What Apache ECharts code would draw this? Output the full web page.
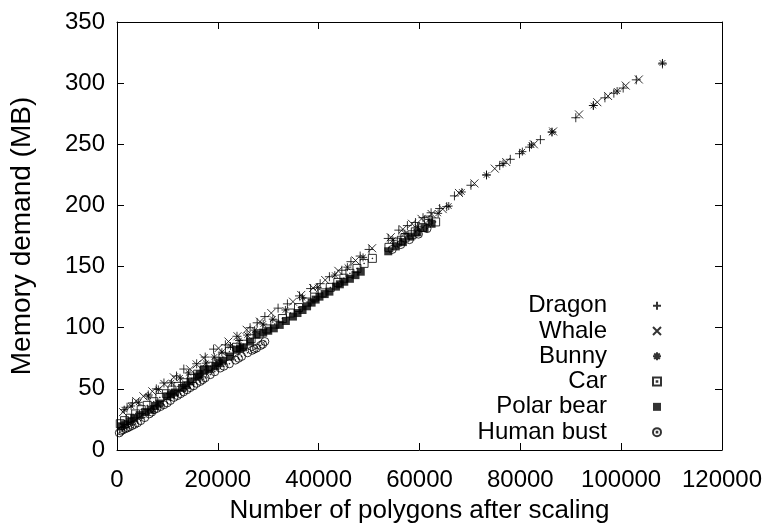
<!DOCTYPE html>
<html>
<head>
<meta charset="utf-8">
<title>Memory demand vs. polygon count</title>
<script src="https://cdn.jsdelivr.net/npm/echarts@6/dist/echarts.min.js"></script>
<style>
  html, body { margin: 0; padding: 0; background: #fff; }
  #chart { width: 768px; height: 529px; }
</style>
</head>
<body>
<div id="chart"></div>
<script>
// Measured memory demand (MB) against polygon count after scaling, per model.
const seriesNames = ['Dragon', 'Whale', 'Bunny', 'Car', 'Polar bear', 'Human bust'];

const dragon = [
  [2000, 35], [3070, 38.5], [6200, 45], [7800, 50], [9310, 54.8], [11800, 60.5], [13250, 66.2],
  [15800, 70.5], [17500, 76], [19150, 82.5], [21500, 86], [23800, 93], [26400, 100],
  [27800, 104], [29330, 109.1], [31950, 116], [33800, 119.5], [36200, 126], [38400, 132],
  [40300, 136], [42130, 141.7], [44600, 147], [46400, 154], [48230, 158.6], [50000, 164],
  [53800, 173], [55900, 179.8], [57600, 183.5], [59200, 186], [60700, 190], [62300, 194],
  [64000, 197.5], [65400, 199], [66930, 207.8], [70200, 216.5], [73290, 224.9], [75910, 232.6],
  [78010, 237.7], [79840, 242.3], [81820, 247.7], [83980, 253.8], [86280, 260], [91000, 271.7],
  [94480, 281.7], [96780, 288], [98550, 291.8], [100400, 296], [103000, 302.7], [108190, 315.7]
];

const whale = [
  [1200, 31], [3800, 40], [5240, 43.9], [7010, 48], [9400, 54], [11280, 59.4], [14500, 66],
  [15800, 70], [17190, 75.2], [20140, 83.3], [22110, 88.7], [23900, 93], [25720, 98.3],
  [28350, 105], [30600, 112], [34900, 121.3], [36540, 126.8], [38900, 132.5], [41300, 139],
  [43900, 146.5], [47300, 155], [50600, 165], [54300, 174], [56700, 180.5], [58500, 185],
  [60400, 189], [62400, 193], [64600, 197], [67830, 210.2], [70900, 218], [74930, 230.1],
  [77200, 235.5], [82680, 250], [86500, 260.5], [91650, 274.4], [95270, 284.4], [97400, 289.5],
  [100900, 298], [103500, 303]
];

const bunny = [
  [1440, 33], [2800, 36], [4300, 39], [6200, 44], [8200, 49.5], [10800, 55], [12500, 59],
  [14200, 63], [17600, 71], [19300, 76], [20800, 80], [22500, 85], [24200, 89.5], [25800, 94],
  [27300, 98], [29000, 103], [30900, 107], [33400, 114.5], [36800, 124.5], [39800, 133],
  [43200, 143], [45700, 149.5], [48800, 157.5], [54700, 171.5], [57100, 177], [59600, 182.5],
  [61900, 188.5], [63700, 193.5], [65800, 199.5], [68400, 211], [73290, 224.9], [76570, 234.2],
  [80400, 244], [82200, 249.5], [86280, 260], [94480, 281.7], [99200, 293.5], [108190, 316.5]
];

const car = [
  [650, 21.5], [1500, 24], [2600, 26], [3700, 29.5], [4800, 33], [6000, 36.5], [7300, 39.5],
  [8500, 43], [9800, 46], [10900, 49], [12100, 52], [13400, 55], [14800, 58.5], [16000, 62],
  [17300, 65.5], [18500, 68.5], [19800, 72], [21000, 76], [22300, 80.5], [23700, 84],
  [25100, 86.5], [26600, 91], [28200, 95], [29700, 99], [31300, 103], [32800, 107.5],
  [34400, 112], [36000, 116.5], [37700, 121], [39200, 125], [40700, 128.5], [42300, 133],
  [43800, 137], [45000, 140.5], [46200, 144.5], [47600, 148.5], [49010, 152.6], [50650, 156.7],
  [53940, 165.7], [55600, 170], [56400, 171.5], [57100, 173.5], [58500, 176], [59170, 178.4],
  [60600, 182], [61800, 188], [63200, 186.5]
];

const polarBear = [
  [790, 19.4], [1600, 21], [2500, 23.5], [3400, 26], [4500, 28.5], [5600, 31], [6690, 33],
  [7600, 36], [8400, 38], [9960, 43.9], [10700, 45.5], [11500, 47], [12910, 50.7], [13700, 53],
  [14570, 56.1], [15900, 60], [16400, 62], [17190, 65.6], [18300, 66], [19500, 68.5],
  [20200, 71], [21000, 73], [22440, 76.5], [23740, 82], [24400, 83], [25000, 84], [26380, 88.7],
  [27680, 94.2], [29000, 96], [30000, 97.5], [31100, 99.5], [32280, 102.3], [33500, 105.5],
  [34900, 109.1], [35800, 112], [36800, 114.5], [37700, 117.5], [38600, 120.5], [39400, 123],
  [40160, 125.4], [41200, 127.5], [42130, 129.5], [43430, 133.6], [44200, 135.5], [45080, 137.6],
  [46200, 140], [47300, 143], [48350, 145.8], [53800, 162.5], [55300, 166.5], [56700, 170],
  [58200, 174.5], [59600, 178], [61000, 181.5], [62400, 185]
];

const humanBust = [
  [450, 14], [800, 15.5], [1200, 16.5], [1700, 17.5], [2090, 18.1], [2500, 19], [3000, 20],
  [3500, 21], [4060, 22.2], [4700, 24], [5500, 26.5], [6400, 29.5], [6900, 31], [7340, 33],
  [7900, 34], [8600, 35.5], [9300, 37], [9960, 38.5], [10600, 40.5], [11300, 43], [12000, 44.5],
  [12600, 46], [13200, 47.5], [13900, 49.3], [14500, 51], [15200, 52.5], [15800, 54.5],
  [16530, 56.1], [17000, 57.5], [17500, 59], [18500, 61.6], [19400, 64], [20470, 67],
  [21200, 68.5], [22300, 70.5], [23500, 73.5], [24100, 75], [24720, 76.5], [25900, 79.5],
  [26800, 81.5], [27200, 82.5], [27680, 83.3], [28500, 85.5], [28900, 86.5], [29330, 88.7],
  [54600, 164], [56300, 168], [58000, 172], [59800, 176.5], [61500, 181]
];

// Axis ranges and tick steps
const xRange = { min: 0, max: 120000, step: 20000 };
const yRange = { min: 0, max: 350, step: 50 };

// Point styles in the spirit of classic plotting terminals
const plusPath    = 'path://M0,5H10M5,0V10';
const crossPath   = 'path://M0,0L10,10M10,0L0,10';
const starPath    = 'path://M0,5H10M5,0V10M1.5,1.5L8.5,8.5M8.5,1.5L1.5,8.5';
const boxDotPath  = 'path://M0,0H10V10H0ZM4.6,4.6H5.4V5.4H4.6Z';
const boxPath     = 'path://M0,0H10V10H0Z';
const circDotPath = 'path://M10,5A5,5,0,1,1,0,5A5,5,0,1,1,10,5ZM4.6,4.6H5.4V5.4H4.6Z';

const FONT = 'Liberation Sans, Arial, Helvetica, sans-serif';
const FS = 24;

const stroked = { color: 'rgba(0,0,0,0)', borderColor: '#000', borderWidth: 1 };

function scatter(name, data, symbol, size, itemStyle) {
  return {
    name: name,
    type: 'scatter',
    data: data,
    symbol: symbol,
    symbolSize: size,
    itemStyle: itemStyle,
    emphasis: { disabled: true },
    z: 3
  };
}

const frameLine = { show: true, onZero: false, lineStyle: { color: '#000', width: 1 } };
const innerTick = { show: true, inside: true, length: 7, lineStyle: { color: '#000', width: 1 } };
const plainNumber = function (v) { return String(v); };

const chart = echarts.init(document.getElementById('chart'), null, { renderer: 'canvas' });

chart.setOption({
  animation: false,
  backgroundColor: '#fff',
  grid: { left: 113, right: 46, top: 22, bottom: 78, containLabel: false },
  xAxis: [
    {
      type: 'value', min: xRange.min, max: xRange.max, interval: xRange.step,
      position: 'bottom',
      name: 'Number of polygons after scaling', nameLocation: 'middle', nameGap: 48,
      nameTextStyle: { fontFamily: FONT, fontSize: 26, color: '#000' },
      axisLine: frameLine, axisTick: innerTick,
      axisLabel: { fontFamily: FONT, fontSize: FS, color: '#000', margin: 18, formatter: plainNumber },
      splitLine: { show: false }
    },
    {
      type: 'value', min: xRange.min, max: xRange.max, interval: xRange.step,
      position: 'top', gridIndex: 0,
      axisLine: frameLine, axisTick: innerTick,
      axisLabel: { show: false }, splitLine: { show: false }
    }
  ],
  yAxis: [
    {
      type: 'value', min: yRange.min, max: yRange.max, interval: yRange.step,
      position: 'left',
      name: 'Memory demand (MB)', nameLocation: 'middle', nameGap: 81, nameRotate: 90,
      nameTextStyle: { fontFamily: FONT, fontSize: 28, color: '#000' },
      axisLine: frameLine, axisTick: innerTick,
      axisLabel: { fontFamily: FONT, fontSize: FS, color: '#000', margin: 12, formatter: plainNumber },
      splitLine: { show: false }
    },
    {
      type: 'value', min: yRange.min, max: yRange.max, interval: yRange.step,
      position: 'right', gridIndex: 0,
      axisLine: frameLine, axisTick: innerTick,
      axisLabel: { show: false }, splitLine: { show: false }
    }
  ],
  legend: {
    data: seriesNames,
    orient: 'vertical',
    align: 'right',
    right: 101,
    top: 288,
    itemWidth: 90,
    itemHeight: 8,
    itemGap: 0,
    selectedMode: false,
    symbolKeepAspect: true,
    textStyle: { fontFamily: FONT, fontSize: FS, color: '#000', lineHeight: 25.3 }
  },
  series: [
    scatter('Dragon', dragon, plusPath, 9, stroked),
    scatter('Whale', whale, crossPath, 8, stroked),
    scatter('Bunny', bunny, starPath, 8, stroked),
    scatter('Car', car, boxDotPath, 8, stroked),
    scatter('Polar bear', polarBear, boxPath, 8, { color: '#000' }),
    scatter('Human bust', humanBust, circDotPath, 8, stroked)
  ]
});
</script>
</body>
</html>
